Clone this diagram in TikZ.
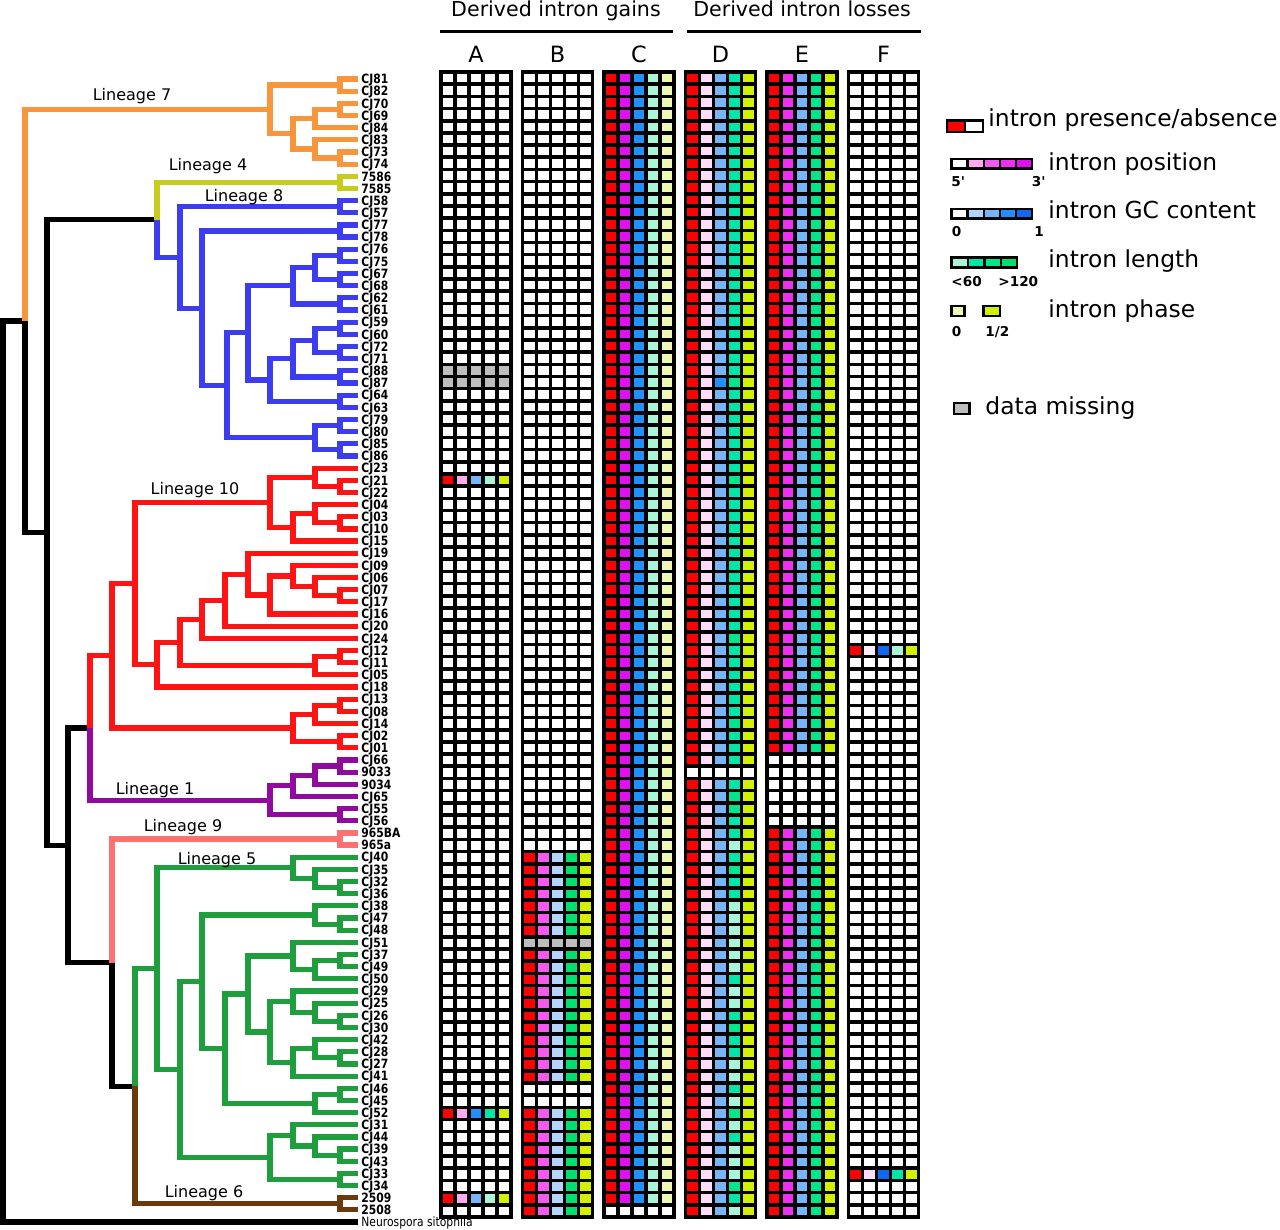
\documentclass[tikz,border=0pt]{standalone}
\usepackage{fontspec}
\setmainfont{DejaVu Sans}
\newfontfamily\leaffont[FakeStretch=0.84]{DejaVu Sans}

% lineage colours
\definecolor{linseven}{HTML}{F7963C}
\definecolor{linfour}{HTML}{C8CC1E}
\definecolor{lineight}{HTML}{3C3CF0}
\definecolor{linten}{HTML}{FF1414}
\definecolor{linone}{HTML}{900A9E}
\definecolor{linnine}{HTML}{FF7070}
\definecolor{linfive}{HTML}{1E9E3C}
\definecolor{linsix}{HTML}{6B3A0A}
% cell colours
\definecolor{pres}{HTML}{FF0000}
\definecolor{posZ}{HTML}{FFEEFA}
\definecolor{posA}{HTML}{FFDDF8}
\definecolor{posB}{HTML}{FFAAEE}
\definecolor{posC}{HTML}{F55AF0}
\definecolor{posD}{HTML}{F030F0}
\definecolor{posE}{HTML}{E010F0}
\definecolor{gcA}{HTML}{B4D4FF}
\definecolor{gcB}{HTML}{78B4F8}
\definecolor{gcC}{HTML}{2090FF}
\definecolor{gcD}{HTML}{1068F0}
\definecolor{lenA}{HTML}{A8F5D8}
\definecolor{lenB}{HTML}{00E6A8}
\definecolor{lenC}{HTML}{00E68C}
\definecolor{lenD}{HTML}{00E070}
\definecolor{phA}{HTML}{EEF8B4}
\definecolor{phB}{HTML}{D2F000}
\definecolor{miss}{HTML}{BEBEBE}

\tikzset{
  branch/.style={line width=2.6pt, line join=miter},
  leaf/.style={font=\leaffont\bfseries\fontsize{6.4}{6.4}\selectfont, anchor=west, inner sep=0pt, text depth=0pt},
  lineage/.style={font=\fontsize{8}{8}\selectfont, anchor=base, inner sep=0pt},
  head/.style={font=\fontsize{10.3}{10.3}\selectfont, anchor=base, inner sep=0pt},
  gridline/.style={line width=1.8pt, line cap=rect},
  legbox/.style={draw=black, line width=1.2pt},
  legtext/.style={font=\fontsize{11.7}{11.7}\selectfont, anchor=base west, inner sep=0pt},
  legsmall/.style={font=\bfseries\fontsize{6.8}{6.8}\selectfont, anchor=base west, inner sep=0pt},
}

% one column of cells over a run of rows: x0, column, first row, last row, colour
\newcommand{\cellrun}[5]{\fill[#5] ({#1+14*#2},{72+12.18*#3}) rectangle ({#1+14*#2+14},{72+12.18*(#4+1)});}
% all five columns over a run of rows
\newcommand{\cellband}[8]{%
  \cellrun{#1}{0}{#2}{#3}{#4}\cellrun{#1}{1}{#2}{#3}{#5}\cellrun{#1}{2}{#2}{#3}{#6}%
  \cellrun{#1}{3}{#2}{#3}{#7}\cellrun{#1}{4}{#2}{#3}{#8}}
% black grid over one block
\newcommand{\gridframe}[1]{\draw[gridline]
  \foreach \i in {0,...,94} {(#1,{72+12.18*\i}) -- ++(70,0)}
  \foreach \j in {0,...,5} {({#1+14*\j},72) -- ++(0,1144.92)};}

\begin{document}
\begin{tikzpicture}[x=0.5pt, y=-0.5pt]
\useasboundingbox (0,0) rectangle (1280,1230);

% Leaves
\foreach \lab [count=\i from 0] in {CJ81,CJ82,CJ70,CJ69,CJ84,CJ83,CJ73,CJ74,7586,7585,
  CJ58,CJ57,CJ77,CJ78,CJ76,CJ75,CJ67,CJ68,CJ62,CJ61,CJ59,CJ60,CJ72,CJ71,CJ88,CJ87,CJ64,CJ63,CJ79,CJ80,CJ85,CJ86,
  CJ23,CJ21,CJ22,CJ04,CJ03,CJ10,CJ15,CJ19,CJ09,CJ06,CJ07,CJ17,CJ16,CJ20,CJ24,CJ12,CJ11,CJ05,CJ18,CJ13,CJ08,CJ14,CJ02,CJ01,
  CJ66,9033,9034,CJ65,CJ55,CJ56,965BA,965a,
  CJ40,CJ35,CJ32,CJ36,CJ38,CJ47,CJ48,CJ51,CJ37,CJ49,CJ50,CJ29,CJ25,CJ26,CJ30,CJ42,CJ28,CJ27,CJ41,CJ46,CJ45,CJ52,CJ31,CJ44,CJ39,CJ43,CJ33,CJ34,
  2509,2508} {
  \coordinate (t\i) at (358,{79+12.16*\i});
  \node[leaf] (n\i) at (361,{79+12.16*\i}) {\lab};
}
\coordinate (t94) at (358,{79+12.16*94});
\node[leaf, font=\leaffont\fontsize{6.4}{6.4}\selectfont] (n94) at (361,{79+12.16*94}) {Neurospora sitophila};

% Internal nodes (x, row)
\foreach \n/\x/\r in {a7a/340/0.5, a7b/340/2.5, a7c/315/3.25, a7d/340/6.5, a7e/315/5.75, a7f/293/4.5, a7g/270/2.5,
  a4/340/8.5,
  b1/340/10.5, b2/340/12.5, b3/340/14.5, b4/340/16.5, b5/315/15.5, b6/340/18.5, b7/293/17, b8/340/20.5,
  b9/340/22.5, b10/315/21.5, b11/340/24.5, b12/293/23, b13/340/26.5, b14/270/24.75, b15/248/20.875,
  b16/340/28.5, b17/340/30.5, b18/315/29.5, b19/227/25.1875, b20/202/18.84375, b21/180/14.671875,
  c1/340/33.5, c2/315/32.75, c3/340/36.5, c4/315/35.75, c5/293/36.875, c6/270/34.8125, c7/340/42.5,
  c8/315/41.75, c9/293/40.875, c10/270/42.4375, c11/248/40.71875, c12/225/42.859375, c13/202/44.4296875,
  c14/340/47.5, c15/315/48.25, c16/180/46.33984, c17/157/48.16992, c18/135/41.49121, c19/340/51.5,
  c20/315/52.25, c21/340/54.5, c22/293/53.375, c23/112/47.43311,
  d1/340/56.5, d2/315/57.25, d3/293/58.125, d4/340/60.5, d5/270/59.3125,
  e1/340/62.5,
  f1/340/66.5, f2/315/65.75, f3/293/64.875, f4/340/69.5, f5/315/68.75, f6/340/72.5, f7/315/73.25,
  f8/293/72.125, f9/340/77.5, f10/315/76.75, f11/293/75.875, f12/340/80.5, f13/315/79.75, f14/293/80.875,
  f15/270/78.375, f16/248/75.25, f17/340/83.5, f18/315/84.25, f19/225/79.75, f20/202/74.25, f21/340/88.5,
  f22/315/87.75, f23/293/86.875, f24/340/90.5, f25/270/88.6875, f26/180/81.46875, f27/157/73.171875,
  g1/340/92.5,
  Z/157/11.58594, V/90/53.37280, T/135/82.83594, U/112/72.66797, W/68/63.02039, Y/47/37.30316,
  X/25/19.90158, R/3/56.95079}
  \coordinate (\n) at (\x,{79+12.16*\r});

% Lineage 7
\foreach \p/\a/\b in {a7a/t0/t1, a7b/t2/t3, a7c/a7b/t4, a7d/t6/t7, a7e/t5/a7d, a7f/a7c/a7e, a7g/a7a/a7f}
  \draw[branch, linseven] (\p) |- (\a) (\p) |- (\b);
% Lineage 4
\draw[branch, linfour] (a4) |- (t8) (a4) |- (t9);
% Lineage 8
\foreach \p/\a/\b in {b1/t10/t11, b2/t12/t13, b3/t14/t15, b4/t16/t17, b5/b3/b4, b6/t18/t19, b7/b5/b6,
  b8/t20/t21, b9/t22/t23, b10/b8/b9, b11/t24/t25, b12/b10/b11, b13/t26/t27, b14/b12/b13, b15/b7/b14,
  b16/t28/t29, b17/t30/t31, b18/b16/b17, b19/b15/b18, b20/b2/b19, b21/b1/b20}
  \draw[branch, lineight] (\p) |- (\a) (\p) |- (\b);
% Lineage 10
\foreach \p/\a/\b in {c1/t33/t34, c2/t32/c1, c3/t36/t37, c4/t35/c3, c5/c4/t38, c6/c2/c5, c7/t42/t43,
  c8/t41/c7, c9/t40/c8, c10/c9/t44, c11/t39/c10, c12/c11/t45, c13/c12/t46, c14/t47/t48, c15/c14/t49,
  c16/c13/c15, c17/c16/t50, c18/c6/c17, c19/t51/t52, c20/c19/t53, c21/t54/t55, c22/c20/c21, c23/c18/c22}
  \draw[branch, linten] (\p) |- (\a) (\p) |- (\b);
% Lineage 1
\foreach \p/\a/\b in {d1/t56/t57, d2/d1/t58, d3/d2/t59, d4/t60/t61, d5/d3/d4}
  \draw[branch, linone] (\p) |- (\a) (\p) |- (\b);
% Lineage 9
\draw[branch, linnine] (e1) |- (t62) (e1) |- (t63);
% Lineage 5
\foreach \p/\a/\b in {f1/t66/t67, f2/t65/f1, f3/t64/f2, f4/t69/t70, f5/t68/f4, f6/t72/t73, f7/f6/t74,
  f8/t71/f7, f9/t77/t78, f10/t76/f9, f11/t75/f10, f12/t80/t81, f13/t79/f12, f14/f13/t82, f15/f11/f14,
  f16/f8/f15, f17/t83/t84, f18/f17/t85, f19/f16/f18, f20/f5/f19, f21/t88/t89, f22/t87/f21, f23/t86/f22,
  f24/t90/t91, f25/f23/f24, f26/f20/f25, f27/f3/f26}
  \draw[branch, linfive] (\p) |- (\a) (\p) |- (\b);
% Lineage 6
\draw[branch, linsix] (g1) |- (t92) (g1) |- (t93);

% Backbone and lineage stems
\draw[branch] (R) -- ++(-3,0);
\draw[branch] (R) |- (X) (R) |- (t94) (X) |- (Y) (Y) |- (Z) (Y) |- (W) (W) |- (V) (W) |- (U) (U) |- (T);
\draw[branch, linseven] (X) |- (a7g);
\draw[branch, linfour] (Z) |- (a4);
\draw[branch, lineight] (Z) |- (b21);
\draw[branch, linten] (V) |- (c23);
\draw[branch, linone] (V) |- (d5);
\draw[branch, linnine] (U) |- (e1);
\draw[branch, linfive] (T) |- (f27);
\draw[branch, linsix] (T) |- (g1);

% Lineage names
\node[lineage] (lab7) at (132,101) {Lineage 7};
\node[lineage] (lab4) at (208,171) {Lineage 4};
\node[lineage] (lab8) at (244,202) {Lineage 8};
\node[lineage] (lab10) at (195,494) {Lineage 10};
\node[lineage] (lab1) at (155,794) {Lineage 1};
\node[lineage] (lab9) at (183,831) {Lineage 9};
\node[lineage] (lab5) at (217,864) {Lineage 5};
\node[lineage] (lab6) at (204,1197) {Lineage 6};

% Headings
\node[head] (gains) at (556,17) {Derived intron gains};
\node[head] (losses) at (802,17) {Derived intron losses};
\draw[line width=1.5pt] (440,32) -- (673,32);
\draw[line width=1.5pt] (687,32) -- (921,32);
\foreach \c/\x in {A/476, B/557.5, C/639, D/720.5, E/802, F/883.5}
  \node[head, font=\fontsize{11.2}{11.2}\selectfont] (col\c) at (\x,63) {\c};

% Block A
\cellband{441}{24}{25}{miss}{miss}{miss}{miss}{miss}
\cellband{441}{33}{33}{pres}{posB}{gcB}{lenA}{phB}
\cellband{441}{85}{85}{pres}{posB}{gcC}{lenB}{phB}
\cellband{441}{92}{92}{pres}{posB}{gcB}{lenA}{phB}
\gridframe{441}
% Block B
\cellband{522.5}{64}{70}{pres}{posC}{gcA}{lenD}{phB}
\cellband{522.5}{71}{71}{miss}{miss}{miss}{miss}{miss}
\cellband{522.5}{72}{82}{pres}{posC}{gcA}{lenD}{phB}
\cellband{522.5}{85}{93}{pres}{posC}{gcA}{lenD}{phB}
\gridframe{522.5}
% Block C
\cellband{604}{0}{92}{pres}{posE}{gcC}{lenA}{phA}
\gridframe{604}
% Block D
\cellband{685.5}{0}{56}{pres}{posA}{gcB}{lenB}{phB}
\cellband{685.5}{58}{93}{pres}{posA}{gcB}{lenB}{phB}
\foreach \r in {25,33,46,53,59,60,65,78,85,91} {\cellrun{685.5}{3}{\r}{\r}{lenC}}
\foreach \r in {63,68,69,70,71,72,73,75,76,81,82,84,86,88,89,90,93} {\cellrun{685.5}{3}{\r}{\r}{lenA}}
\cellrun{685.5}{2}{25}{25}{gcC}
\gridframe{685.5}
% Block E
\cellband{767}{0}{55}{pres}{posD}{gcB}{lenC}{phB}
\cellband{767}{62}{93}{pres}{posD}{gcB}{lenC}{phB}
\gridframe{767}
% Block F
\cellband{848.5}{47}{47}{pres}{posZ}{gcD}{lenA}{phB}
\cellband{848.5}{90}{90}{pres}{posA}{gcD}{lenB}{phB}
\gridframe{848.5}

% Legend
\draw[legbox, fill=pres] (947,120.5) rectangle (965,132);
\draw[legbox, fill=white] (965,120.5) rectangle (983,132);
\node[legtext] (kpres) at (988,127) {intron presence/absence};

\foreach \c [count=\k from 0] in {white,posB,posC,posD,posE}
  {\draw[legbox, fill=\c] ({951.5+16.1*\k},159) rectangle ++(16.1,9.6);}
\node[legsmall] (kpos5) at (951,186.5) {5\textquotesingle};
\node[legsmall] (kpos3) at (1031.5,186.5) {3\textquotesingle};
\node[legtext] (kpos) at (1048,171) {intron position};

\foreach \c [count=\k from 0] in {white,gcA,gcB,gcC,gcD}
  {\draw[legbox, fill=\c] ({951.5+16.1*\k},209) rectangle ++(16.1,9.6);}
\node[legsmall] (kgc0) at (951.5,236.5) {0};
\node[legsmall] (kgc1) at (1034,236.5) {1};
\node[legtext] (kgc) at (1048,219) {intron GC content};

\foreach \c [count=\k from 0] in {lenA,lenB,lenC,lenD}
  {\draw[legbox, fill=\c] ({951.5+16.4*\k},257.5) rectangle ++(16.4,10);}
\node[legsmall] (klen0) at (951,286.5) {<60};
\node[legsmall] (klen1) at (998,286.5) {>120};
\node[legtext] (klen) at (1048,268) {intron length};

\draw[legbox, fill=phA] (951.5,306) rectangle ++(13,10);
\draw[legbox, fill=phB] (983.5,306) rectangle ++(16.5,10);
\node[legsmall] (kph0) at (951.5,336.5) {0};
\node[legsmall] (kph1) at (985,336.5) {1/2};
\node[legtext] (kph) at (1048,318) {intron phase};

\draw[legbox, fill=miss] (954,403) rectangle ++(15.5,11);
\node[legtext] (kmiss) at (985,415) {data missing};

\end{tikzpicture}
\end{document}
